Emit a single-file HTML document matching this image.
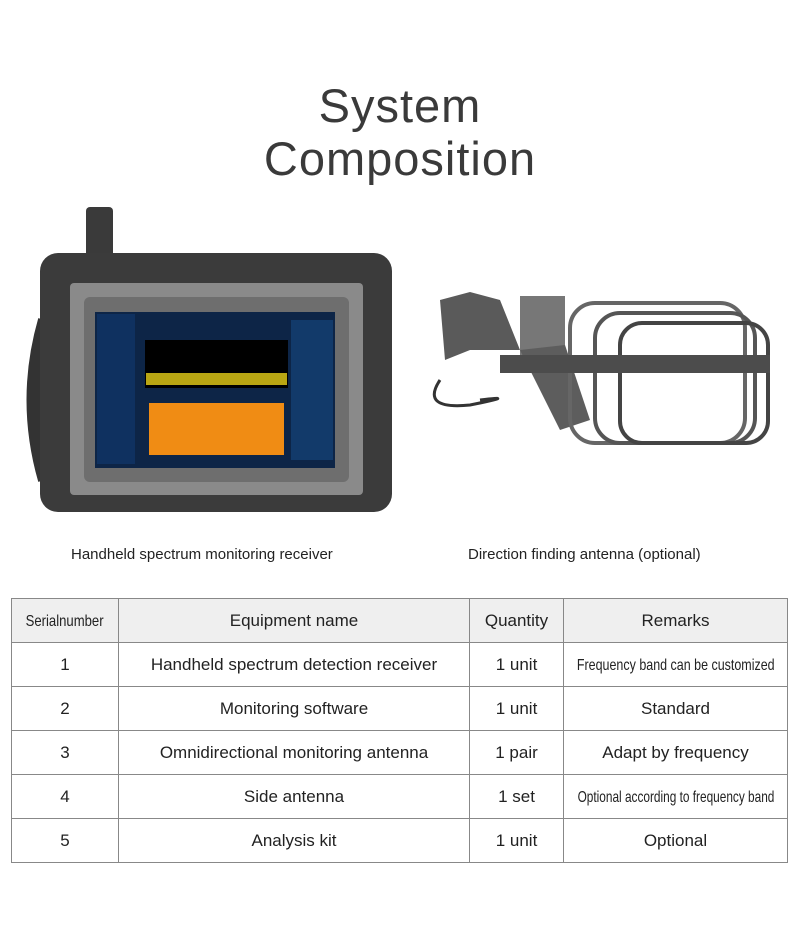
<!DOCTYPE html>
<html><head><meta charset="utf-8"><style>
body{margin:0;width:800px;height:926px;background:#fff;font-family:"Liberation Sans",sans-serif;position:relative;overflow:hidden}
.t{position:absolute;left:0;width:800px;text-align:center;color:#3a3a3a;font-size:47px;letter-spacing:1px}
.cap{position:absolute;font-size:15px;color:#222;white-space:nowrap}
table{position:absolute;left:11px;top:598px;border-collapse:collapse;width:777px;table-layout:fixed}
td{border:1px solid #888;text-align:center;font-size:17px;color:#222;height:43px;padding:0;white-space:nowrap;overflow:hidden}
tr:first-child td{background:#efefef}
.c{display:inline-block;transform:scaleX(0.82);font-size:16px;margin:0 -40px}
</style></head><body>
<div class="t" style="top:78px">System</div>
<div class="t" style="top:131px">Composition</div>
<svg width="800" height="540" style="position:absolute;left:0;top:0">
<rect x="86" y="207" width="27" height="50" rx="4" fill="#3a3a3a"/>
<path d="M45 320 Q22 400 45 480" stroke="#333" stroke-width="14" fill="none"/>
<rect x="40" y="253" width="352" height="259" rx="18" fill="#3b3b3b"/>
<rect x="70" y="283" width="293" height="212" rx="4" fill="#8a8a8a"/>
<rect x="84" y="297" width="265" height="185" rx="6" fill="#6e6e6e"/>
<rect x="95" y="312" width="240" height="156" fill="#0d2547"/>
<rect x="97" y="314" width="38" height="150" fill="#0f3160"/>
<rect x="145" y="340" width="143" height="48" fill="#000"/>
<rect x="146" y="373" width="141" height="12" fill="#b9a613"/>
<rect x="149" y="403" width="135" height="52" fill="#f08c14"/>
<rect x="291" y="320" width="42" height="140" fill="#123a6a"/>
<path d="M440 300 L470 292 L500 300 L520 350 L470 350 L445 360 Z" fill="#5a5a5a"/>
<rect x="520" y="296" width="45" height="70" fill="#777"/>
<path d="M520 350 L565 345 L590 420 L560 430 Z" fill="#5d5d5d"/>
<rect x="570" y="303" width="175" height="140" rx="25" fill="none" stroke="#666" stroke-width="4"/>
<rect x="595" y="313" width="160" height="130" rx="25" fill="none" stroke="#555" stroke-width="4"/>
<rect x="620" y="323" width="148" height="120" rx="22" fill="none" stroke="#444" stroke-width="4"/>
<rect x="500" y="355" width="270" height="18" fill="#4c4c4c"/>
<path d="M440 380 Q420 410 470 405 Q520 395 480 400" stroke="#333" stroke-width="3" fill="none"/>
</svg>
<div class="cap" style="left:71px;top:546px">Handheld spectrum monitoring receiver</div>
<div class="cap" style="left:468px;top:546px">Direction finding antenna (optional)</div>
<table>
<colgroup><col style="width:107px"><col style="width:351px"><col style="width:94px"><col></colgroup>
<tr><td><span class="c" style="margin:0">Serialnumber</span></td><td>Equipment name</td><td>Quantity</td><td>Remarks</td></tr>
<tr><td>1</td><td>Handheld spectrum detection receiver</td><td>1 unit</td><td><span class="c" style="transform:scaleX(0.78)">Frequency band can be customized</span></td></tr>
<tr><td>2</td><td>Monitoring software</td><td>1 unit</td><td>Standard</td></tr>
<tr><td>3</td><td>Omnidirectional monitoring antenna</td><td>1 pair</td><td>Adapt by frequency</td></tr>
<tr><td>4</td><td>Side antenna</td><td>1 set</td><td><span class="c" style="transform:scaleX(0.74)">Optional according to frequency band</span></td></tr>
<tr><td>5</td><td>Analysis kit</td><td>1 unit</td><td>Optional</td></tr>
</table>
</body></html>
